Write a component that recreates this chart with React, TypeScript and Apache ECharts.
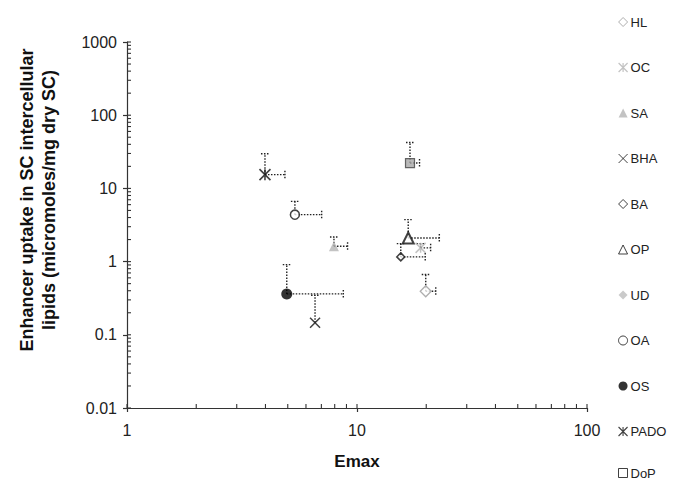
import React, { useEffect, useRef } from "react";
import * as echarts from "echarts";

const FONT = "'Liberation Sans', Arial, Helvetica, sans-serif";

// series: name, Emax (x), uptake (y), upper y error end, right x error end
const seriesNames = ["HL", "OC", "SA", "BHA", "BA", "OP", "UD", "OA", "OS", "PADO", "DoP"];
const emax = [19.9, 18.9, 7.94, 6.57, 15.5, 16.7, null, 5.37, 4.95, 3.98, 17.0];
const uptake = [0.394, 1.54, 1.62, 0.146, 1.16, 2.1, null, 4.38, 0.362, 15.4, 22.2];
const uptakeUpper = [0.665, 1.76, 2.17, 0.347, 1.76, 3.74, null, 6.65, 0.91, 29.7, 42.4];
const emaxRight = [22.0, 20.9, 9.1, 6.57, 19.8, 22.8, null, 7.02, 8.72, 4.86, 18.7];

const xTickLabels = ["1", "10", "100"];
const yTickLabels = ["0.01", "0.1", "1", "10", "100", "1000"];

const ASTERISK = "path://M0,0L10,10M10,0L0,10M5,0L5,10";
const CROSS = "path://M0,0L10,10M10,0L0,10";

const styles: Record<string, any> = {
  HL: { symbol: "diamond", size: 11, itemStyle: { color: "#ffffff", borderColor: "#9a9a9a", borderWidth: 1.3 } },
  OC: { symbol: ASTERISK, size: 10, itemStyle: { color: "transparent", borderColor: "#b4b4b4", borderWidth: 1.5 } },
  SA: { symbol: "triangle", size: 10, itemStyle: { color: "#b4b4b4", borderColor: "#b4b4b4", borderWidth: 0 } },
  BHA: { symbol: CROSS, size: 10, itemStyle: { color: "transparent", borderColor: "#111", borderWidth: 1.5 } },
  BA: { symbol: "diamond", size: 8, itemStyle: { color: "#ffffff", borderColor: "#111", borderWidth: 1.5 } },
  OP: { symbol: "triangle", size: 11, itemStyle: { color: "#ffffff", borderColor: "#111", borderWidth: 2 } },
  UD: { symbol: "diamond", size: 10, itemStyle: { color: "#b4b4b4", borderColor: "#b4b4b4", borderWidth: 0 } },
  OA: { symbol: "circle", size: 9, itemStyle: { color: "#ffffff", borderColor: "#111", borderWidth: 1.5 } },
  OS: { symbol: "circle", size: 11, itemStyle: { color: "#000", borderColor: "#000", borderWidth: 0 } },
  PADO: { symbol: ASTERISK, size: 11, itemStyle: { color: "transparent", borderColor: "#111", borderWidth: 1.6 } },
  DoP: { symbol: "rect", size: 9, itemStyle: { color: "#a8a8a8", borderColor: "#444", borderWidth: 1.2 } },
};

const legendStyles: Record<string, any> = {
  HL: { color: "#fff", borderColor: "#9a9a9a", borderWidth: 1 },
  OC: { color: "transparent", borderColor: "#b4b4b4", borderWidth: 1.2 },
  SA: { color: "#b4b4b4", borderWidth: 0 },
  BHA: { color: "transparent", borderColor: "#111", borderWidth: 1 },
  BA: { color: "#fff", borderColor: "#111", borderWidth: 1 },
  OP: { color: "#fff", borderColor: "#111", borderWidth: 1 },
  UD: { color: "#bdbdbd", borderWidth: 0 },
  OA: { color: "#fff", borderColor: "#111", borderWidth: 1 },
  OS: { color: "#000", borderWidth: 0 },
  PADO: { color: "transparent", borderColor: "#111", borderWidth: 1.1 },
  DoP: { color: "#fff", borderColor: "#111", borderWidth: 1 },
};

function logMinorTicks(lo: number, hi: number): number[] {
  const out: number[] = [];
  for (let d = lo; d < hi; d++) {
    for (let k = 2; k <= 9; k++) out.push(k * Math.pow(10, d));
  }
  return out;
}
const xMinor = logMinorTicks(0, 2);
const yMinor = logMinorTicks(-2, 3);
const xMajor = xTickLabels.map(Number);
const yMajor = yTickLabels.map(Number);

export default function App() {
  const ref = useRef<HTMLDivElement>(null);
  useEffect(() => {
    if (!ref.current) return;
    const chart = echarts.init(ref.current, null, { renderer: "svg" });

    const errData: any[] = [];
    seriesNames.forEach((n, i) => {
      if (emax[i] != null) errData.push([emax[i], uptake[i], uptakeUpper[i], emaxRight[i]]);
    });

    const tickData: any[] = [];
    xMinor.forEach((v) => tickData.push([v, 0.01, 0, 4]));
    yMinor.forEach((v) => tickData.push([1, v, 1, 4]));
    xMajor.forEach((v) => tickData.push([v, 0.01, 0, 4]));
    yMajor.forEach((v) => tickData.push([1, v, 1, 4]));

    const dotted = { stroke: "#222", lineWidth: 1.4, lineDash: [1.5, 1.5] };

    const scatterSeries = seriesNames.map((n, i) => ({
      name: n,
      type: "scatter",
      symbol: styles[n].symbol,
      symbolSize: styles[n].size,
      itemStyle: styles[n].itemStyle,
      z: 5,
      data: emax[i] != null ? [[emax[i], uptake[i]]] : [],
    }));

    const STEP = 45.5;
    const mkLegend = (names: string[], top: number) => ({
      orient: "vertical",
      left: 618,
      top,
      padding: 0,
      itemWidth: 9,
      itemHeight: 9,
      itemGap: STEP - 14,
      selectedMode: false,
      data: names.map((n) => ({ name: n, itemStyle: legendStyles[n] })),
      textStyle: { fontFamily: FONT, fontSize: 13, color: "#222", lineHeight: 14, padding: [0, 0, 0, -2] },
    });

    chart.setOption({
      animation: false,
      backgroundColor: "#ffffff",
      grid: { left: 127, right: 91, top: 42, bottom: 74 },
      legend: [
        mkLegend(seriesNames.slice(0, 5), 15),
        mkLegend(seriesNames.slice(5, 10), 15 + 5 * STEP),
        mkLegend(seriesNames.slice(10), 466),
      ],
      xAxis: {
        type: "log",
        logBase: 10,
        min: 1,
        max: 100,
        name: "Emax",
        nameLocation: "middle",
        nameGap: 45,
        nameTextStyle: { fontFamily: FONT, fontSize: 17, fontWeight: "bold", color: "#111" },
        axisLine: { lineStyle: { color: "#333", width: 1.2 } },
        axisTick: { show: true, inside: false, length: 4, lineStyle: { color: "#333", width: 1.2 } },
        axisLabel: { fontFamily: FONT, fontSize: 16, color: "#222", margin: 14 },
        splitLine: { show: false },
      },
      yAxis: {
        type: "log",
        logBase: 10,
        min: 0.01,
        max: 1000,
        axisLine: { show: true, lineStyle: { color: "#333", width: 1.2 } },
        axisTick: { show: true, inside: false, length: 4, lineStyle: { color: "#333", width: 1.2 } },
        axisLabel: {
          fontFamily: FONT,
          fontSize: 16,
          color: "#222",
          margin: 10,
          formatter: (v: number) => {
            const idx = yMajor.findIndex((m) => Math.abs(Math.log10(m) - Math.log10(v)) < 1e-6);
            return idx >= 0 ? yTickLabels[idx] : "";
          },
        },
        splitLine: { show: false },
      },
      graphic: [
        {
          type: "text",
          x: 38,
          y: 200,
          rotation: Math.PI / 2,
          style: {
            text: "Enhancer uptake in SC intercellular\nlipids (micromoles/mg dry SC)",
            fontFamily: FONT,
            fontSize: 18,
            fontWeight: "bold",
            fill: "#111",
            align: "center",
            verticalAlign: "middle",
            lineHeight: 22,
          },
        },
      ],
      series: [
        {
          type: "custom",
          name: "ticks",
          silent: true,
          z: 1,
          data: tickData,
          encode: { x: 0, y: 1 },
          renderItem: (params: any, api: any) => {
            const p = api.coord([api.value(0), api.value(1)]);
            const len = api.value(3);
            const isY = api.value(2) === 1;
            return {
              type: "line",
              shape: isY
                ? { x1: p[0], y1: p[1], x2: p[0] + len, y2: p[1] }
                : { x1: p[0], y1: p[1], x2: p[0], y2: p[1] - len },
              style: { stroke: "#333", lineWidth: 1.1 },
            };
          },
        },
        {
          type: "custom",
          name: "errors",
          silent: true,
          z: 2,
          data: errData,
          encode: { x: [0, 3], y: [1, 2] },
          renderItem: (params: any, api: any) => {
            const p = api.coord([api.value(0), api.value(1)]);
            const pu = api.coord([api.value(0), api.value(2)]);
            const pr = api.coord([api.value(3), api.value(1)]);
            const children: any[] = [];
            if (p[1] - pu[1] > 1) {
              children.push({ type: "line", shape: { x1: p[0], y1: p[1], x2: pu[0], y2: pu[1] }, style: dotted });
              children.push({ type: "line", shape: { x1: pu[0] - 4, y1: pu[1], x2: pu[0] + 4, y2: pu[1] }, style: dotted });
            }
            if (pr[0] - p[0] > 1) {
              children.push({ type: "line", shape: { x1: p[0], y1: p[1], x2: pr[0], y2: pr[1] }, style: dotted });
              children.push({ type: "line", shape: { x1: pr[0], y1: pr[1] - 4, x2: pr[0], y2: pr[1] + 4 }, style: dotted });
            }
            return { type: "group", children };
          },
        },
        ...scatterSeries,
      ],
    });
    return () => chart.dispose();
  }, []);
  return <div ref={ref} style={{ width: 678, height: 482, position: "absolute", left: 0, top: 0 }} />;
}
